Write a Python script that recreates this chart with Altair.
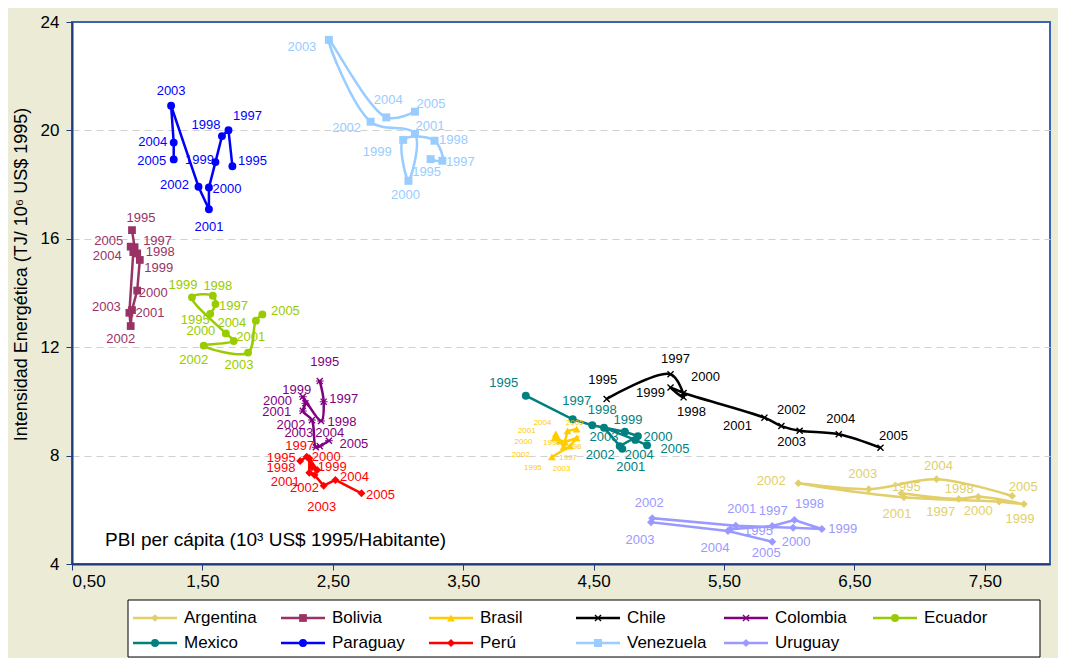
import altair as alt
import pandas as pd

FONT = "Liberation Sans"

YEARS = [1995, 1997, 1998, 1999, 2000, 2001, 2002, 2003, 2004, 2005]

COUNTRIES = ["Argentina", "Bolivia", "Brasil", "Chile", "Colombia", "Ecuador",
             "Mexico", "Paraguay", "Perú", "Venezuela", "Uruguay"]

# PBI per cápita (10^3 US$ 1995 / habitante), in YEARS order
PBI = {
    "Argentina": [6.86, 7.30, 7.45, 7.80, 7.61, 6.88, 6.07, 6.61, 7.13, 7.71],
    "Bolivia":   [0.96, 0.98, 1.00, 1.02, 1.00, 0.96, 0.95, 0.94, 0.97, 0.95],
    "Brasil":    [4.18, 4.32, 4.37, 4.28, 4.20, 4.21, 4.24, 4.27, 4.30, 4.37],
    "Chile":     [4.60, 5.09, 5.19, 5.09, 5.19, 5.81, 5.94, 6.08, 6.38, 6.70],
    "Colombia":  [2.40, 2.43, 2.41, 2.27, 2.29, 2.27, 2.34, 2.37, 2.40, 2.47],
    "Ecuador":   [1.56, 1.60, 1.58, 1.42, 1.68, 1.74, 1.51, 1.85, 1.91, 1.96],
    "Mexico":    [3.98, 4.34, 4.49, 4.74, 4.84, 4.70, 4.72, 4.58, 4.82, 4.91],
    "Paraguay":  [1.73, 1.70, 1.65, 1.60, 1.55, 1.55, 1.47, 1.26, 1.28, 1.28],
    "Perú":      [2.25, 2.30, 2.34, 2.38, 2.32, 2.32, 2.36, 2.43, 2.52, 2.72],
    "Venezuela": [3.25, 3.34, 3.28, 3.04, 3.08, 3.13, 2.79, 2.47, 2.91, 3.13],
    "Uruguay":   [5.55, 5.87, 6.04, 6.25, 6.03, 5.59, 4.95, 4.94, 5.53, 5.87],
}

# Intensidad energética (TJ / 10^6 US$ 1995), in YEARS order
INTENSIDAD = {
    "Argentina": [6.61, 6.40, 6.48, 6.21, 6.30, 6.46, 6.98, 6.76, 7.13, 6.51],
    "Bolivia":   [16.32, 15.69, 15.46, 15.22, 14.09, 13.37, 12.78, 13.27, 15.51, 15.71],
    "Brasil":    [7.95, 8.35, 8.65, 8.50, 8.65, 8.80, 8.54, 8.32, 8.91, 8.98],
    "Chile":     [10.09, 11.00, 10.15, 10.51, 10.31, 9.40, 9.09, 8.92, 8.79, 8.29],
    "Colombia":  [10.75, 9.99, 9.28, 10.17, 9.93, 9.65, 9.31, 8.31, 8.35, 8.55],
    "Ecuador":   [13.23, 13.59, 13.90, 13.84, 12.51, 12.23, 12.06, 11.80, 12.98, 13.21],
    "Mexico":    [10.21, 9.34, 9.12, 8.88, 8.72, 8.35, 8.25, 9.03, 8.58, 8.38],
    "Paraguay":  [18.68, 20.01, 19.79, 18.83, 17.89, 17.09, 17.92, 20.91, 19.55, 18.93],
    "Perú":      [7.80, 7.96, 7.57, 7.47, 7.90, 7.37, 7.28, 6.89, 7.10, 6.61],
    "Venezuela": [18.94, 18.88, 19.62, 19.65, 18.14, 19.87, 20.32, 23.34, 20.48, 20.69],
    "Uruguay":   [5.28, 5.40, 5.62, 5.29, 5.34, 5.41, 5.69, 5.54, 5.22, 4.82],
}

X_TITLE = "PBI per cápita (10³ US$ 1995/Habitante)"
Y_TITLE = "Intensidad Energética (TJ/ 10⁶ US$ 1995)"
X_TICKS = [0.5, 1.5, 2.5, 3.5, 4.5, 5.5, 6.5, 7.5]
Y_TICKS = [4, 8, 12, 16, 20, 24]

# ---- styling (kept apart from the data) ----
COLORS = ["#E2CF6A", "#993366", "#FFCC00", "#000000", "#800080", "#99CC00",
          "#008080", "#0000FF", "#FF0000", "#99CCFF", "#9999FF"]
X_PATH = ("M-0.9,-0.65L-0.65,-0.9L0,-0.25L0.65,-0.9L0.9,-0.65L0.25,0L0.9,0.65"
          "L0.65,0.9L0,0.25L-0.65,0.9L-0.9,0.65L-0.25,0Z")
STAR_PATH = X_PATH + "M-1,-0.13L1,-0.13L1,0.13L-1,0.13Z"
SHAPES = ["diamond", "square", "triangle-up", X_PATH, STAR_PATH, "circle",
          "circle", "circle", "diamond", "square", "diamond"]
SIZES = [60, 64, 50, 100, 100, 64, 64, 64, 60, 64, 60]
SMOOTH = ["Argentina", "Chile", "Venezuela", "Ecuador", "Colombia"]

# label offsets in pixels (dx, dy) from each marker, in YEARS order
LABEL_OFFSETS = {
    "Argentina": [(5, -6), (-18, 13), (-19, -8), (-4, 15), (-21, 9), (-7, 17), (-27, -2), (-6, -15), (2, -13), (11, -9)],
    "Bolivia":   [(9, -12), (23, -6), (23, -1), (19, 8), (16, 2), (18, 3), (-10, 13), (-23, -6), (-26, 4), (-22, -6)],
    "Brasil":    [(-19, 11), (-2, 12), (-4, 9), (-13, 1), (-31, 4), (-29, -3), (-39, 14), (-2, 22), (-25, -8), (-2, -6)],
    "Chile":     [(-4, -19), (5, -15), (8, 15), (-20, 5), (22, -16), (-27, 8), (10, -16), (-8, 11), (2, -15), (13, -12)],
    "Colombia":  [(5, -19), (20, -3), (21, 1), (-6, -7), (-28, -2), (-26, 1), (-21, 5), (-17, -14), (10, -13), (25, 3)],
    "Ecuador":   [(-15, 6), (18, 2), (5, -10), (-9, -12), (-25, -2), (17, -4), (-10, 14), (-9, 12), (-24, 2), (23, -3)],
    "Mexico":    [(-22, -13), (4, -18), (10, -15), (3, -12), (20, 1), (11, 21), (-22, 6), (0, 9), (4, 15), (28, 4)],
    "Paraguay":  [(20, -5), (19, -14), (-16, -11), (-16, -2), (18, 1), (0, 18), (-24, -2), (0, -15), (-21, -1), (-22, 2)],
    "Perú":      [(-19, -3), (-7, -11), (-31, 1), (15, -3), (17, -1), (-24, 9), (-10, 13), (-2, 21), (19, -3), (19, 2)],
    "Venezuela": [(-4, 13), (18, 1), (19, -1), (-26, 12), (-3, 14), (15, -8), (-24, 6), (-27, 7), (2, -17), (16, -8)],
    "Uruguay":   [(28, 2), (1, -15), (15, -16), (21, 0), (3, 14), (6, -17), (-3, -15), (-11, 18), (-13, 17), (-6, 11)],
}

W, H = 978, 542
X_DOM = [0.5, 8.0]
Y_DOM = [4, 24]
XPX = (X_DOM[1] - X_DOM[0]) / W
YPX = (Y_DOM[1] - Y_DOM[0]) / H

rows = []
for c in COUNTRIES:
    for i, yr in enumerate(YEARS):
        dx, dy = LABEL_OFFSETS[c][i]
        x = PBI[c][i]
        y = INTENSIDAD[c][i]
        rows.append({"country": c, "year": yr, "year_lbl": str(yr), "pbi": x,
                     "intensidad": y, "lx": x + dx * XPX, "ly": y - dy * YPX,
                     "smooth": c in SMOOTH})
df = pd.DataFrame(rows)

xs = alt.Scale(domain=X_DOM, nice=False, zero=False)
ys = alt.Scale(domain=Y_DOM, nice=False, zero=False)
color_scale = alt.Scale(domain=COUNTRIES, range=COLORS)
shape_scale = alt.Scale(domain=COUNTRIES, range=SHAPES)
size_scale = alt.Scale(domain=COUNTRIES, range=SIZES)

x_axis = alt.Axis(values=X_TICKS, title=None, grid=False,
                  labelExpr="replace(format(datum.value, '.2f'), '.', ',')",
                  labelFont=FONT, labelFontSize=17, labelColor="black",
                  labelPadding=3, tickSize=6, tickColor="#203A80",
                  domainColor="#203A80", domainWidth=2)
y_axis = alt.Axis(values=Y_TICKS, format="d", title=Y_TITLE,
                  labelFont=FONT, labelFontSize=17, labelColor="black",
                  labelPadding=7, tickSize=6, tickColor="#203A80",
                  domainColor="#203A80", domainWidth=2,
                  grid=True, gridDash=[7, 5], gridWidth=1,
                  gridColor={"condition": {"test": "datum.value <= 4 || datum.value >= 24",
                                           "value": "transparent"},
                             "value": "#D0D0D0"},
                  titleFont=FONT, titleFontSize=18, titleFontWeight="normal",
                  titleColor="black", titleAngle=-90, titleX=-51, titleY=252,
                  titleAlign="center", titleBaseline="middle")

base = alt.Chart(df)
color_enc = alt.Color("country:N", scale=color_scale, legend=None)

lines_lin = base.transform_filter("!datum.smooth").mark_line(strokeWidth=2.5).encode(
    x=alt.X("pbi:Q", scale=xs, axis=x_axis),
    y=alt.Y("intensidad:Q", scale=ys, axis=y_axis),
    color=color_enc, detail="country:N", order="year:Q")
lines_smooth = base.transform_filter("datum.smooth").mark_line(
    strokeWidth=2.5, interpolate="catmull-rom").encode(
    x=alt.X("pbi:Q", scale=xs), y=alt.Y("intensidad:Q", scale=ys),
    color=color_enc, detail="country:N", order="year:Q")
points = base.mark_point(filled=True, opacity=1).encode(
    x=alt.X("pbi:Q", scale=xs), y=alt.Y("intensidad:Q", scale=ys),
    color=color_enc,
    shape=alt.Shape("country:N", scale=shape_scale, legend=None),
    size=alt.Size("country:N", scale=size_scale, legend=None))
labels = base.transform_filter("datum.country != 'Brasil'").mark_text(
    font=FONT, fontSize=13, align="center", baseline="middle").encode(
    x=alt.X("lx:Q", scale=xs), y=alt.Y("ly:Q", scale=ys),
    text="year_lbl:N", color=color_enc)
labels_small = base.transform_filter("datum.country == 'Brasil'").mark_text(
    font=FONT, fontSize=8, align="center", baseline="middle").encode(
    x=alt.X("lx:Q", scale=xs), y=alt.Y("ly:Q", scale=ys),
    text="year_lbl:N", color=color_enc)
x_title = alt.Chart(pd.DataFrame({"t": [X_TITLE]})).mark_text(
    font=FONT, fontSize=19, align="left", baseline="middle", color="black").encode(
    x=alt.value(33), y=alt.value(518), text="t:N")

main = alt.layer(lines_lin, lines_smooth, points, labels, labels_small, x_title)

# ---- legend (drawn below the plot, 6 columns x 2 rows) ----
LEGEND_COL_X = [133, 281, 429, 576, 724, 873]   # page x of each column's symbol
LEGEND_ROW_Y = [618, 643]                        # page y of each row
PLOT_LEFT, PLOT_TOP = 72, 22
leg_rows = []
for i, c in enumerate(COUNTRIES):
    cx = LEGEND_COL_X[i % 6] - PLOT_LEFT
    cy = LEGEND_ROW_Y[i // 6] - PLOT_TOP
    leg_rows.append({"country": c, "x1": cx, "x2": cx + 44, "xm": cx + 22,
                     "xt": cx + 51, "y": cy})
leg_df = pd.DataFrame(leg_rows)

leg_box = alt.Chart(pd.DataFrame({"a": [0]})).mark_rect(
    fill="white", stroke="black", strokeWidth=1).encode(
    x=alt.value(128 - PLOT_LEFT), x2=alt.value(1040 - PLOT_LEFT),
    y=alt.value(600 - PLOT_TOP), y2=alt.value(657 - PLOT_TOP))
leg_base = alt.Chart(leg_df)
leg_lines = leg_base.mark_rule(strokeWidth=2.5).encode(
    x=alt.X("x1:Q", scale=None), x2="x2:Q", y=alt.Y("y:Q", scale=None),
    color=color_enc)
leg_pts = leg_base.mark_point(filled=True, opacity=1).encode(
    x=alt.X("xm:Q", scale=None), y=alt.Y("y:Q", scale=None), color=color_enc,
    shape=alt.Shape("country:N", scale=shape_scale, legend=None),
    size=alt.Size("country:N", scale=size_scale, legend=None))
leg_txt = leg_base.mark_text(font=FONT, fontSize=17, align="left",
                             baseline="middle", color="black").encode(
    x=alt.X("xt:Q", scale=None), y=alt.Y("y:Q", scale=None), text="country:N")
legend = alt.layer(leg_box, leg_lines, leg_pts, leg_txt)

chart = alt.layer(main, legend).resolve_scale(
    x="independent", y="independent"
).properties(
    width=W, height=H,
    padding={"left": 64, "top": 14, "right": 8, "bottom": 94},
    autosize=alt.AutoSizeParams(type="none"),
    background="#EBEBD6",
).configure_view(fill="white", stroke="#3B63B8", strokeWidth=2)

chart.save("out.html", embed_options={"renderer": "svg", "actions": False})
